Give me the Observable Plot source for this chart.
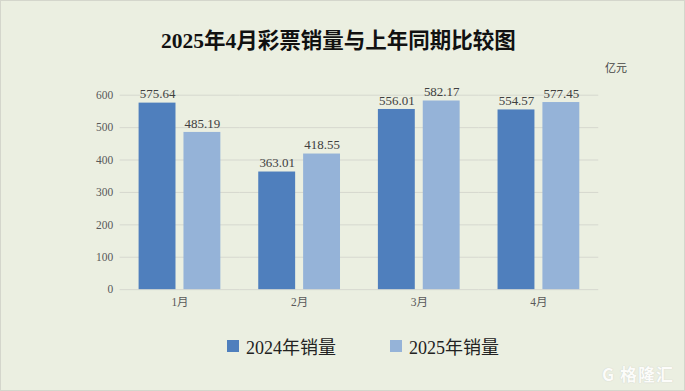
<!DOCTYPE html>
<html><head><meta charset="utf-8">
<script src="https://cdn.jsdelivr.net/npm/d3@7"></script>
<script src="https://cdn.jsdelivr.net/npm/@observablehq/plot@0.6"></script>
<style>
html,body{margin:0;padding:0;}
#wrap{position:relative;width:683px;height:389px;background:#EBEFE1;border:1px solid #d4d6cc;overflow:hidden;
  font-family:"Liberation Serif","Noto Sans CJK SC",serif;}
#title{position:absolute;left:0;width:683px;top:22px;text-align:center;font-size:21.5px;font-weight:bold;color:#111;
  font-family:"Liberation Serif","Noto Sans CJK SC",serif;padding-left:0;box-sizing:border-box;padding-right:8px;}
#unit{position:absolute;left:604px;top:58px;font-size:11px;color:#444;font-family:"Noto Sans CJK SC",sans-serif;}
#chart{position:absolute;left:0;top:0;}
#legend{position:absolute;top:332px;left:0;width:683px;}
.li{position:absolute;display:flex;align-items:center;font-size:18px;color:#222;}
.sw{width:12px;height:12px;margin-right:7px;}
#wm{position:absolute;right:10px;bottom:4px;font-size:17px;color:#ffffff;font-weight:bold;opacity:0.85;
  font-family:"Noto Sans CJK SC",sans-serif;letter-spacing:1px;text-shadow:0 0 1px #bbb;}
</style></head>
<body>
<div id="wrap">
  <div id="chart"></div>
  <div id="title">2025年4月彩票销量与上年同期比较图</div>
  <div id="unit">亿元</div>
  <div id="legend"></div>
  <div id="wm">G 格隆汇</div>
</div>
<script>
const months = ["1月", "2月", "3月", "4月"];
const series = ["2024年销量", "2025年销量"];
const sales2024 = [575.64, 363.01, 556.01, 554.57];
const sales2025 = [485.19, 418.55, 582.17, 577.45];
const yTicks = [0, 100, 200, 300, 400, 500, 600];
const colors = ["#4F7FBD", "#95B3D8"];

const data = months.flatMap((m, i) => [
  {month: m, series: series[0], value: sales2024[i]},
  {month: m, series: series[1], value: sales2025[i]}
]);

const chart = Plot.plot({
  width: 685,
  height: 320,
  marginTop: 94,
  marginBottom: 31,
  marginLeft: 119,
  marginRight: 86,
  style: {background: "transparent", fontFamily: "'Liberation Serif','Noto Sans CJK SC',serif", fontSize: "11.5px", color: "#595959"},
  fx: {domain: months, padding: 0, label: null, tickSize: 0, tickPadding: 8},
  x: {domain: series, axis: null, paddingInner: 0.178, paddingOuter: 0.42},
  y: {domain: [0, 600], ticks: yTicks, label: null, tickSize: 0, tickPadding: 7},
  color: {domain: series, range: colors},
  marks: [
    Plot.gridY(yTicks, {stroke: "#d6d8cf", strokeOpacity: 1}),
    Plot.barY(data, {fx: "month", x: "series", y: "value", fill: "series"}),
    Plot.text(data, {fx: "month", x: "series", y: "value", text: d => d.value.toFixed(2),
      dy: -9, fontSize: 13, fill: "#404040", letterSpacing: 0.8})
  ]
});
document.getElementById("chart").appendChild(chart);

const legend = document.getElementById("legend");
const lx = [226, 389];
series.forEach((s, i) => {
  const d = document.createElement("div");
  d.className = "li";
  d.style.left = lx[i] + "px";
  d.innerHTML = `<span class="sw" style="background:${colors[i]}"></span><span>${s}</span>`;
  legend.appendChild(d);
});
</script>
</body></html>
